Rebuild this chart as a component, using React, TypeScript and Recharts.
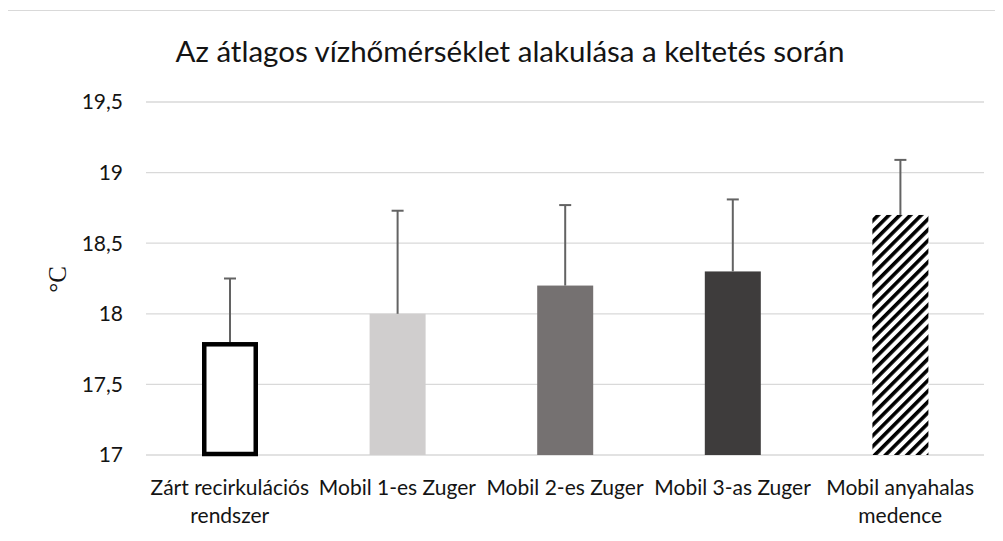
import React from "react";
import { BarChart, Bar, XAxis, YAxis, CartesianGrid } from "recharts";

// Chart values
const categories = [
  "Zárt recirkulációs\nrendszer",
  "Mobil 1-es Zuger",
  "Mobil 2-es Zuger",
  "Mobil 3-as Zuger",
  "Mobil anyahalas\nmedence",
];
const meanTemp = [17.8, 18.0, 18.2, 18.3, 18.7];
const errorUp = [0.45, 0.73, 0.57, 0.51, 0.39];
const yTicks = [17, 17.5, 18, 18.5, 19, 19.5];

const Y_MIN = 17;
const Y_MAX = 19.5;

const chartData = categories.map((name, i) => ({
  name,
  value: meanTemp[i],
  err: errorUp[i],
}));

// How each bar is painted
const barLooks = [
  { fill: "#ffffff", outline: "#000000" },
  { fill: "#d0cece" },
  { fill: "#757171" },
  { fill: "#3e3c3c" },
  { fill: "url(#stripes)" },
];

const FONT = "Lato, 'Open Sans', sans-serif";
const TEXT = "#141414";

const BarWithError = (props: any) => {
  const { x, y, width, height, index, payload } = props;
  const look = barLooks[index] || barLooks[1];
  // pixels per °C, taken from the bar's own geometry
  const unit = height / (payload.value - Y_MIN);
  const errTop = y - payload.err * unit;
  const cx = x + width / 2;
  const sw = 4.5;

  return (
    <g>
      {look.outline ? (
        <rect
          x={x + sw / 2}
          y={y + sw / 2}
          width={width - sw}
          height={height - sw / 2 - 1}
          fill={look.fill}
          stroke={look.outline}
          strokeWidth={sw}
        />
      ) : (
        <rect x={x} y={y} width={width} height={height} fill={look.fill} />
      )}
      <line x1={cx} y1={y} x2={cx} y2={errTop} stroke="#636363" strokeWidth={2} />
      <line x1={cx - 6} y1={errTop} x2={cx + 6} y2={errTop} stroke="#636363" strokeWidth={2} />
    </g>
  );
};

const CategoryTick = (props: any) => {
  const { x, y, payload } = props;
  const lines = String(payload.value).split("\n");
  return (
    <text x={x} y={y} textAnchor="middle" fontFamily={FONT} fontSize={21} fill={TEXT}>
      {lines.map((line, i) => (
        <tspan key={i} x={x} dy={i === 0 ? 40 : 28}>
          {line}
        </tspan>
      ))}
    </text>
  );
};

const UnitLabel = (props: any) => {
  const vb = props.viewBox || { x: 0, y: 94, width: 138, height: 353 };
  const cx = vb.x + 49;
  const cy = vb.y + vb.height / 2 + 1;
  return (
    <text
      x={cx}
      y={cy}
      transform={`rotate(-90 ${cx} ${cy})`}
      textAnchor="middle"
      dominantBaseline="central"
      fontFamily="'Liberation Serif', 'DejaVu Serif', serif"
      fontSize={25}
      fill={TEXT}
    >
      °C
    </text>
  );
};

export default function App() {
  return (
    <div style={{ position: "relative", width: 995, height: 525, fontFamily: FONT }}>
      <div
        style={{
          position: "absolute",
          left: -1,
          top: 2,
          width: 996,
          height: 531,
          borderTop: "1px solid #d9d9d9",
          borderLeft: "1px solid #d9d9d9",
          boxSizing: "border-box",
        }}
      />
      <div
        style={{
          position: "absolute",
          left: 14,
          top: 25,
          width: 976,
          textAlign: "center",
          fontSize: 29.5,
          lineHeight: "36px",
          color: TEXT,
          whiteSpace: "nowrap",
        }}
      >
        Az átlagos vízhőmérséklet alakulása a keltetés során
      </div>
      <svg width={0} height={0} style={{ position: "absolute" }}>
        <defs>
          <pattern
            id="stripes"
            patternUnits="userSpaceOnUse"
            width={7.6}
            height={7.6}
            patternTransform="rotate(45)"
          >
            <rect x={0} y={0} width={7.6} height={7.6} fill="#ffffff" />
            <rect x={0} y={0} width={3.6} height={7.6} fill="#000000" />
          </pattern>
        </defs>
      </svg>
      <BarChart
        width={995}
        height={525}
        data={chartData}
        margin={{ top: 94, right: 19, left: 0, bottom: 0 }}
        style={{ position: "absolute", left: 0, top: 0 }}
      >
        <CartesianGrid vertical={false} stroke="#d9d9d9" strokeWidth={1.3} />
        <XAxis
          dataKey="name"
          height={78}
          axisLine={false}
          tickLine={false}
          tickSize={0}
          tickMargin={0}
          interval={0}
          tick={<CategoryTick />}
        />
        <YAxis
          width={138}
          domain={[Y_MIN, Y_MAX]}
          ticks={yTicks}
          axisLine={false}
          tickLine={false}
          tickSize={0}
          tickMargin={23}
          tickFormatter={(v: number) => String(v).replace(".", ",")}
          tick={{ fontFamily: FONT, fontSize: 21, fill: TEXT }}
          label={<UnitLabel />}
        />
        <Bar dataKey="value" barSize={56} shape={<BarWithError />} isAnimationActive={false} />
      </BarChart>
    </div>
  );
}
